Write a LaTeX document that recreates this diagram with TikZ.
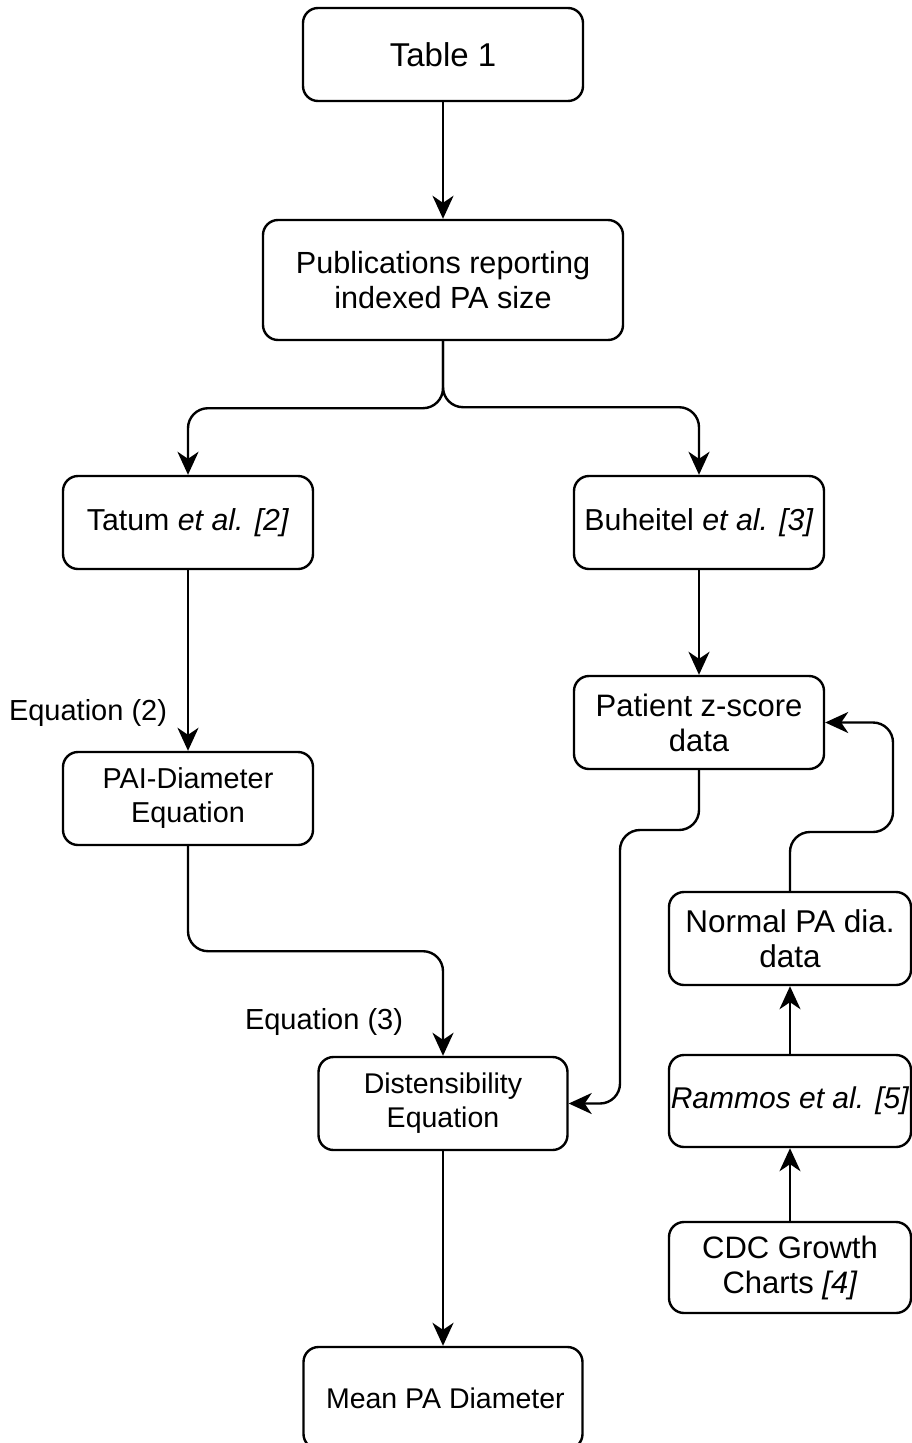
\documentclass[tikz,border=0pt]{standalone}
\usepackage{fontspec}
\setmainfont{Liberation Sans}
\usetikzlibrary{arrows.meta}
\begin{document}
\begin{tikzpicture}[x=1pt,y=-1pt,
  box/.style={draw=black, line width=2.4pt, rounded corners=15pt, align=center, inner sep=0pt},
  big/.style={font=\fontsize{31}{35}\selectfont},
  small/.style={font=\fontsize{28.5}{34}\selectfont},
  arr/.style={draw=black, line width=2.4pt, rounded corners=20pt, -{Stealth[length=23pt,width=21pt,inset=7pt]}},
  lbl/.style={font=\fontsize{29}{32}\selectfont, inner sep=0pt}]
\useasboundingbox (0,0) rectangle (912,1443);
\node[box,font=\fontsize{33}{38}\selectfont,minimum width=280pt,minimum height=93pt] (t1) at (443,54.5) {Table 1};
\node[box,font=\fontsize{30.6}{35}\selectfont,minimum width=360pt,minimum height=120pt] (pub) at (443,280) {Publications reporting\\indexed PA size};
\node[box,font=\fontsize{30.3}{35}\selectfont,minimum width=250pt,minimum height=93pt] (tat) at (188,522.5) {Tatum \textit{et al. [2]}};
\node[box,font=\fontsize{30.3}{35}\selectfont,minimum width=250pt,minimum height=93pt] (buh) at (699,522.5) {Buheitel \textit{et al. [3]}};
\node[box,big,minimum width=250pt,minimum height=93pt] (pat) at (699,722.5) {Patient z-score\\data};
\node[box,font=\fontsize{28.8}{34}\selectfont,minimum width=250pt,minimum height=93pt] (pai) at (188,798.5) {PAI-Diameter\\Equation};
\node[box,font=\fontsize{31.5}{35}\selectfont,minimum width=242pt,minimum height=93pt] (nor) at (790,938.5) {Normal PA dia.\\data};
\node[box,font=\fontsize{30}{35}\selectfont,minimum width=242pt,minimum height=92pt] (ram) at (790,1101) {\textit{Rammos et al. [5]}};
\node[box,big,minimum width=242pt,minimum height=91pt] (cdc) at (790,1267.5) {CDC Growth\\Charts \textit{[4]}};
\node[box,small,minimum width=249pt,minimum height=93pt] (dis) at (443,1103.5) {Distensibility\\Equation};
\node[box,small,minimum width=279pt,minimum height=102pt] (mean) at (443,1398) {\,Mean PA Diameter};
\node[lbl] (e2) at (88,713) {Equation (2)};
\node[lbl] (e3) at (324,1022) {Equation (3)};
\coordinate (c1) at (620,830);
\coordinate (c2) at (893,832);
\draw[arr] (t1) -- (pub);
\draw[arr] (pub.south) -- ++(0,67) -| (tat.north);
\draw[arr] (pub.south) -- ++(0,66) -| (buh.north);
\draw[arr] (tat) -- (pai);
\draw[arr] (buh) -- (pat);
\draw[arr] (pai.south) -- ++(0,105) -| (dis.north);
\draw[arr] (pat.south) |- (c1) |- (dis.east);
\draw[arr] (nor.north) |- (c2) |- (pat.east);
\draw[arr] (ram) -- (nor);
\draw[arr] (cdc) -- (ram);
\draw[arr] (dis) -- (mean);
\end{tikzpicture}
\end{document}
